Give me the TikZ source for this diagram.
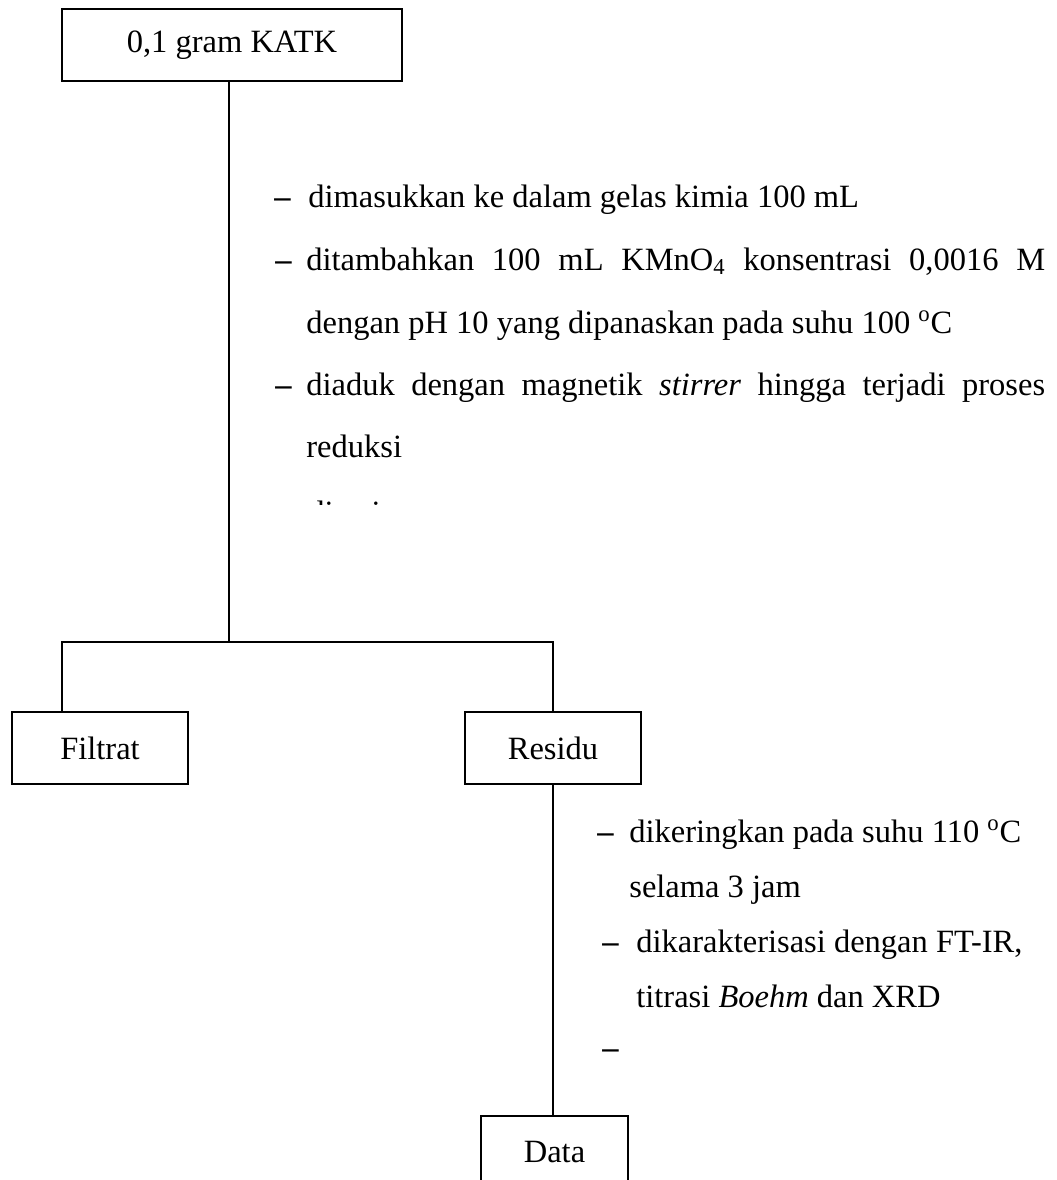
\documentclass[tikz,border=0pt]{standalone}
\usepackage{fontspec}
\setmainfont{Liberation Serif}
\usetikzlibrary{positioning, calc}

\tikzset{
  kotak/.style={draw, line width=1.1pt, minimum height=1.44cm, inner sep=0pt,
    font=\fontsize{18.5}{22}\selectfont},
  langkah/.style={anchor=base west, inner sep=0pt, font=\fontsize{18.5}{22}\selectfont},
  garis/.style={line width=1.1pt},
}
\newcommand{\strip}{\textbf{--}}

\begin{document}
\begin{tikzpicture}[x=0.02cm, y=-0.02cm]
    \useasboundingbox (0,0) rectangle (1056,1180);
    \clip (0,0) rectangle (1056,1180);

    % kotak bahan dan hasil
    \node[kotak, minimum width=6.8cm] (katk) at (232,45) {0,1 gram KATK};
    \node[kotak, minimum width=3.52cm] (filtrat) at (100,748) {Filtrat};
    \node[kotak, minimum width=3.52cm] (residu) at (553,748) {Residu};
    \node[kotak, minimum width=2.94cm] (data) at (554.5,1152) {Data};

    % percabangan
    \coordinate (cabang) at (229,642);
    \coordinate (kiri) at (62,642);
    \coordinate (kanan) at (residu.north |- cabang);

    \draw[garis] (katk.south -| cabang) -- (cabang);
    \draw[garis] (kiri |- filtrat.north) -- (kiri) -- (kanan) -- (residu.north);
    \draw[garis] (residu.south) -- (residu.south |- data.north);

    % langkah perlakuan KATK
    \node[langkah] (s1) at (274,207) {\strip};
    \node[langkah] (t1) at (308,207) {dimasukkan ke dalam gelas kimia 100 mL};
    \node[langkah] (s2) at (275,270) {\strip};
    \node[langkah] (t2) at (306,270) {\makebox[14.78cm][s]{ditambahkan 100 mL KMnO\textsubscript{4} konsentrasi 0,0016 M}};
    \node[langkah] (t3) at (306,333) {dengan pH 10 yang dipanaskan pada suhu 100 \textsuperscript{o}C};
    \node[langkah] (s4) at (275,395) {\strip};
    \node[langkah] (t4) at (306,395) {\makebox[14.78cm][s]{diaduk dengan magnetik \textit{stirrer} hingga terjadi proses}};
    \node[langkah] (t5) at (306,457) {reduksi};
    \begin{scope}
        \clip (300,480) rectangle (520,504);
        \node[langkah] (t6) at (308,523) {disaring};
    \end{scope}

    % langkah perlakuan residu
    \node[langkah] (s7) at (597,842) {\strip};
    \node[langkah] (t7) at (629,842) {dikeringkan pada suhu 110 \textsuperscript{o}C};
    \node[langkah] (t8) at (629,897) {selama 3 jam};
    \node[langkah] (s9) at (602,952) {\strip};
    \node[langkah] (t9) at (636,952) {dikarakterisasi dengan FT-IR,};
    \node[langkah] (t10) at (636,1007) {titrasi \textit{Boehm} dan XRD};
    \node[langkah] (s11) at (602,1058) {\strip};
\end{tikzpicture}
\end{document}
